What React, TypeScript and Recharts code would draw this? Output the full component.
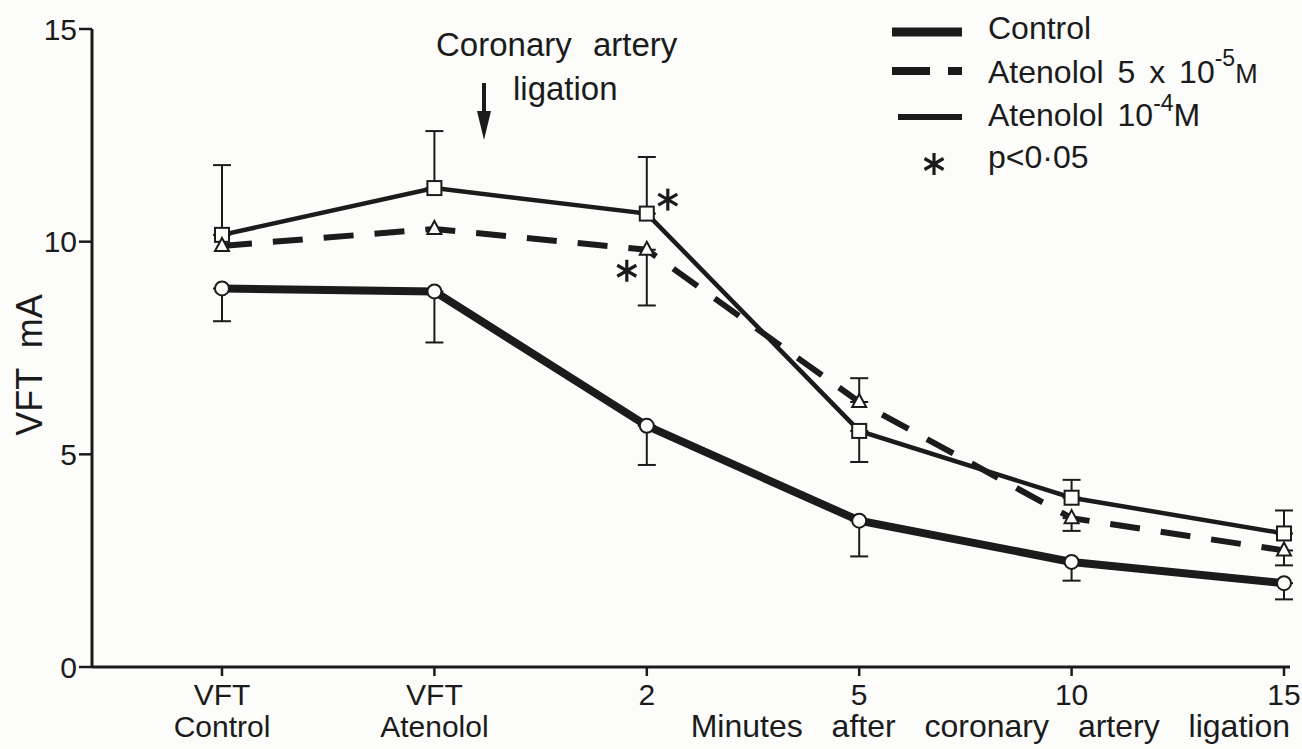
import React from 'react';
import { LineChart, Line, XAxis, YAxis, ErrorBar, ReferenceDot, Label } from 'recharts';

// categories along the x axis (two-line labels split on \n)
const categories = ['VFT\nControl', 'VFT\nAtenolol', '2', '5', '10', '15'];
const yTicks = [0, 5, 10, 15];

// Control (thick line, open circles) - SEM bars drawn downward
const control = [8.9, 8.83, 5.67, 3.44, 2.47, 1.97];
const controlErr = [[0.77, 0], [1.2, 0], [0.92, 0], [0.84, 0], [0.44, 0], [0.38, 0]];

// Atenolol 10^-4 M (thin solid, open squares)
const aten4 = [10.16, 11.26, 10.66, 5.55, 3.98, 3.14];
const aten4Err = [[0, 1.64], [0, 1.34], [0, 1.33], [0.73, 0], [0, 0.42], [0, 0.54]];

// Atenolol 5x10^-5 M (dashed, open triangles)
const aten5 = [9.9, 10.3, 9.81, 6.23, 3.5, 2.74];
const aten5Err = [null, null, [1.31, 0], [0, 0.56], [0.3, 0], [0.35, 0]];

// p<0.05 marks
const sigMarks = [
  { cat: '2', value: aten4[2], dx: 21, dy: -14 },
  { cat: '2', value: aten5[2], dx: -20, dy: 21 },
];

const data = categories.map((cat, i) => ({
  cat,
  control: control[i],
  controlErr: controlErr[i],
  aten4: aten4[i],
  aten4Err: aten4Err[i],
  aten5: aten5[i],
  aten5Err: aten5Err[i],
}));

const FONT = "'Liberation Sans', Arial, Helvetica, sans-serif";
const INK = '#1b1b1b';
const BG = '#fcfcfa';

const CircleDot = (props: any) => {
  const { cx, cy } = props;
  if (cx == null || cy == null) return null;
  return <circle cx={cx} cy={cy} r={7} fill={BG} stroke={INK} strokeWidth={2} />;
};

const SquareDot = (props: any) => {
  const { cx, cy } = props;
  if (cx == null || cy == null) return null;
  return <rect x={cx - 7} y={cy - 7} width={14} height={14} fill={BG} stroke={INK} strokeWidth={2} />;
};

const TriangleDot = (props: any) => {
  const { cx, cy } = props;
  if (cx == null || cy == null) return null;
  return (
    <polygon
      points={`${cx},${cy - 8} ${cx + 7},${cy + 5} ${cx - 7},${cy + 5}`}
      fill={BG}
      stroke={INK}
      strokeWidth={2}
    />
  );
};

const Asterisk = ({ x, y, size = 11 }: { x: number; y: number; size?: number }) => {
  const a = [90, 30, 150];
  return (
    <g stroke={INK} strokeWidth={3.2}>
      {a.map((deg) => {
        const r = (deg * Math.PI) / 180;
        const dx = Math.cos(r) * size;
        const dy = Math.sin(r) * size;
        return <line key={deg} x1={x - dx} y1={y - dy} x2={x + dx} y2={y + dy} />;
      })}
    </g>
  );
};

const XTick = (props: any) => {
  const { x, y, payload } = props;
  const lines = String(payload.value).split('\n');
  return (
    <text x={x} y={y} textAnchor="middle" fill={INK} fontFamily={FONT} fontSize={30}>
      {lines.map((l, i) => (
        <tspan key={i} x={x} dy={i === 0 ? 27 : 32}>
          {l}
        </tspan>
      ))}
    </text>
  );
};

const Overlay = () => (
  <svg width={1302} height={749} style={{ position: 'absolute', left: 0, top: 0, pointerEvents: 'none' }}>
    {/* legend */}
    <g fontFamily={FONT} fontSize={32} fill={INK}>
      <line x1={892} y1={32} x2={962} y2={32} stroke={INK} strokeWidth={9} />
      <text x={988} y={39}>Control</text>

      <line x1={892} y1={71} x2={930} y2={71} stroke={INK} strokeWidth={8} />
      <line x1={948} y1={71} x2={962} y2={71} stroke={INK} strokeWidth={8} />
      <text x={988} y={83} style={{ wordSpacing: 5 }}>
        Atenolol 5 x 10
        <tspan fontSize={23} dy={-17}>-5</tspan>
        <tspan fontSize={27} dy={17}>M</tspan>
      </text>

      <line x1={898} y1={117} x2={962} y2={117} stroke={INK} strokeWidth={6} />
      <text x={988} y={126} style={{ wordSpacing: 5 }}>
        Atenolol 10
        <tspan fontSize={23} dy={-15}>-4</tspan>
        <tspan dy={15}>M</tspan>
      </text>

      <Asterisk x={934} y={164} size={11} />
      <text x={988} y={168}>p&lt;0·05</text>
    </g>

    {/* annotation: coronary artery ligation */}
    <g fontFamily={FONT} fontSize={33} fill={INK}>
      <text x={436} y={56} style={{ wordSpacing: 12 }}>Coronary artery</text>
      <text x={513} y={100}>ligation</text>
    </g>
    <line x1={484} y1={83} x2={484} y2={116} stroke={INK} strokeWidth={4} />
    <polygon points="477,111 491,111 484,140" fill={INK} />
  </svg>
);

const App: React.FC = () => {
  return (
    <div style={{ position: 'absolute', left: 0, top: 0, width: 1302, height: 749, background: BG }}>
      <LineChart width={1302} height={749} data={data} margin={{ top: 29, right: 12, bottom: 0, left: 0 }}>
        <XAxis
          dataKey="cat"
          height={82}
          padding={{ left: 130, right: 6 }}
          axisLine={{ stroke: INK, strokeWidth: 3 }}
          tickLine={{ stroke: INK, strokeWidth: 2.5 }}
          tickSize={9}
          tick={<XTick />}
          interval={0}
        >
          <Label
            content={(p: any) => {
              const vb = p.viewBox;
              return (
                <text
                  x={vb.x + vb.width}
                  y={vb.y + 70}
                  textAnchor="end"
                  fill={INK}
                  fontFamily={FONT}
                  fontSize={32}
                  style={{ wordSpacing: 20 }}
                >
                  Minutes after coronary artery ligation
                </text>
              );
            }}
          />
        </XAxis>
        <YAxis
          width={92}
          domain={[0, 15]}
          ticks={yTicks}
          axisLine={{ stroke: INK, strokeWidth: 3 }}
          tickLine={{ stroke: INK, strokeWidth: 2.5 }}
          tickSize={13}
          tickMargin={2}
          tick={{ fill: INK, fontSize: 30, fontFamily: FONT }}
        >
          <Label
            content={(p: any) => {
              const vb = p.viewBox;
              const cy = vb.y + 336;
              return (
                <text
                  x={42}
                  y={cy}
                  transform={`rotate(-90, 42, ${cy})`}
                  textAnchor="middle"
                  fill={INK}
                  fontFamily={FONT}
                  fontSize={36}
                  style={{ wordSpacing: 10 }}
                >
                  VFT mA
                </text>
              );
            }}
          />
        </YAxis>

        <Line
          dataKey="control"
          stroke={INK}
          strokeWidth={8}
          dot={<CircleDot />}
          activeDot={false}
          isAnimationActive={false}
        >
          <ErrorBar dataKey="controlErr" direction="y" width={9} stroke={INK} strokeWidth={2} isAnimationActive={false} />
        </Line>
        <Line
          dataKey="aten4"
          stroke={INK}
          strokeWidth={4.5}
          dot={<SquareDot />}
          activeDot={false}
          isAnimationActive={false}
        >
          <ErrorBar dataKey="aten4Err" direction="y" width={9} stroke={INK} strokeWidth={2} isAnimationActive={false} />
        </Line>
        <Line
          dataKey="aten5"
          stroke={INK}
          strokeWidth={6}
          strokeDasharray="30 21"
          dot={<TriangleDot />}
          activeDot={false}
          isAnimationActive={false}
        >
          <ErrorBar dataKey="aten5Err" direction="y" width={9} stroke={INK} strokeWidth={2} isAnimationActive={false} />
        </Line>

        {sigMarks.map((s, i) => (
          <ReferenceDot
            key={i}
            x={s.cat}
            y={s.value}
            r={0}
            shape={(p: any) => <Asterisk x={p.cx + s.dx} y={p.cy + s.dy} />}
          />
        ))}
      </LineChart>
      <Overlay />
    </div>
  );
};

export default App;
